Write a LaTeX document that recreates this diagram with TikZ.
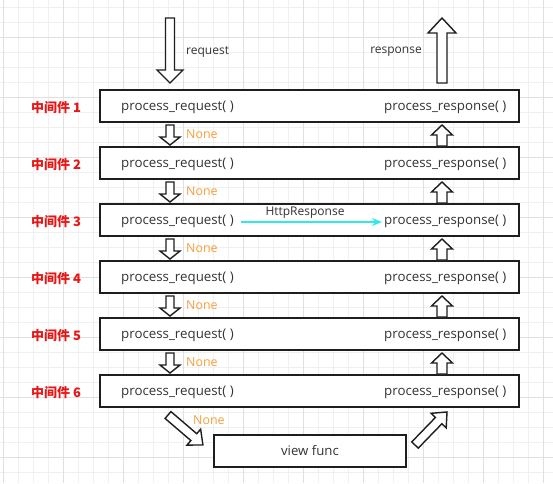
\documentclass[tikz,border=0pt]{standalone}
\usepackage{fontspec}
\setmainfont{Open Sans}
\newfontfamily\cjk{Noto Sans CJK SC}
\usetikzlibrary{arrows.meta}
\definecolor{gridminor}{RGB}{240,240,240}
\definecolor{gridmajor}{RGB}{224,224,224}
\definecolor{boxline}{RGB}{30,30,30}
\definecolor{txt}{RGB}{51,51,51}
\definecolor{lblred}{RGB}{232,22,22}
\definecolor{noneorange}{RGB}{245,160,60}
\definecolor{cyanline}{RGB}{50,232,232}
\tikzset{
  mw/.style={draw=boxline, line width=1.8pt, fill=white, minimum width=419pt, minimum height=32pt, inner sep=0pt, outer sep=0pt},
  vf/.style={draw=boxline, line width=1.8pt, fill=white, minimum width=192pt, minimum height=32pt, inner sep=0pt, outer sep=0pt, text=txt, font=\fontsize{13.2}{15}\selectfont},
  fn/.style={text=txt, font=\fontsize{13.3}{15}\selectfont, inner sep=0pt, anchor=west},
  lbl/.style={text=lblred, font=\cjk\bfseries\fontsize{13}{14}\selectfont, inner sep=0pt, anchor=west},
  nonelbl/.style={text=noneorange, font=\fontsize{12.4}{14}\selectfont, inner sep=0pt, anchor=west},
  smalltxt/.style={text=txt, font=\fontsize{12}{14}\selectfont, inner sep=0pt},
  harrow/.style={draw=boxline, line width=1.4pt, fill=white, line join=miter},
  flow/.style={draw=cyanline, line width=1.6pt, -{Stealth[length=10pt,width=8pt]}},
}
% #1 start, #2 angle, #3 length, #4 shaft half width, #5 head half width, #6 head length
\newcommand\hollowarrow[6]{%
  \begin{scope}[shift={#1}, rotate=#2]
    \draw[harrow] (0,-#4) -- (#3-#6,-#4) -- (#3-#6,-#5) -- (#3,0) -- (#3-#6,#5) -- (#3-#6,#4) -- (0,#4) -- cycle;
  \end{scope}}
\begin{document}
\begin{tikzpicture}[x=1pt,y=-1pt]
  \useasboundingbox (0,0) rectangle (553,483);
  \fill[white] (0,0) rectangle (553,483);
  % grid
  \foreach \gx in {3,18,...,553} \draw[gridminor, line width=0.6pt] (\gx,0) -- (\gx,483);
  \foreach \gy in {7,22,...,483} \draw[gridminor, line width=0.6pt] (0,\gy) -- (553,\gy);
  \foreach \gx in {3,63,...,553} \draw[gridmajor, line width=0.7pt] (\gx,0) -- (\gx,483);
  \foreach \gy in {37,97,...,483} \draw[gridmajor, line width=0.7pt] (0,\gy) -- (553,\gy);

  % request / response arrows
  \hollowarrow{(170,18)}{-90}{65}{4.5}{13}{13}
  \hollowarrow{(442,83)}{90}{65}{5}{14}{15}
  \node[smalltxt, anchor=west] (reqlbl) at (186,52) {request};
  \node[smalltxt, anchor=east] (resplbl) at (422,52) {response};

  % middleware boxes
  \foreach \k in {1,...,6} {
    \pgfmathsetmacro\t{90+57*(\k-1)}
    \node[mw, anchor=north west] (m\k) at (100,\t) {};
    \node[fn] (req\k) at ([xshift=21pt,yshift=-1.5pt]m\k.west) {process\_request( )};
    \node[fn] (resp\k) at ([xshift=284pt,yshift=-1.5pt]m\k.west) {process\_response( )};
    \node[lbl] (lab\k) at ([xshift=-69pt,yshift=-1.5pt]m\k.west) {中间件 \k};
  }
  % small arrows between boxes
  \foreach \k in {1,...,5} {
    \pgfmathsetmacro\b{90+57*(\k-1)+32}
    \pgfmathsetmacro\n{90+57*\k}
    \hollowarrow{(170,\b+3)}{-90}{20}{4}{10}{8}
    \hollowarrow{(442,\n-1)}{90}{21}{5}{10.5}{10}
    \node[nonelbl] (none\k) at (186,\b+12) {None};
  }

  % HttpResponse shortcut
  \draw[flow] ([xshift=7pt,yshift=-0.5pt]req3.east) -- ([xshift=-2pt,yshift=-0.5pt]resp3.west);
  \node[smalltxt] (http) at (305,213) {HttpResponse};

  % view func
  \node[vf, anchor=north west] (vf) at (214,435) {view func};
  \hollowarrow{(168,415)}{-40.6}{46}{4.5}{10.5}{12}
  \hollowarrow{(415,445)}{45.9}{46}{4.5}{10.5}{12}
  \node[nonelbl] (none6) at (193,420) {None};
\end{tikzpicture}
\end{document}
